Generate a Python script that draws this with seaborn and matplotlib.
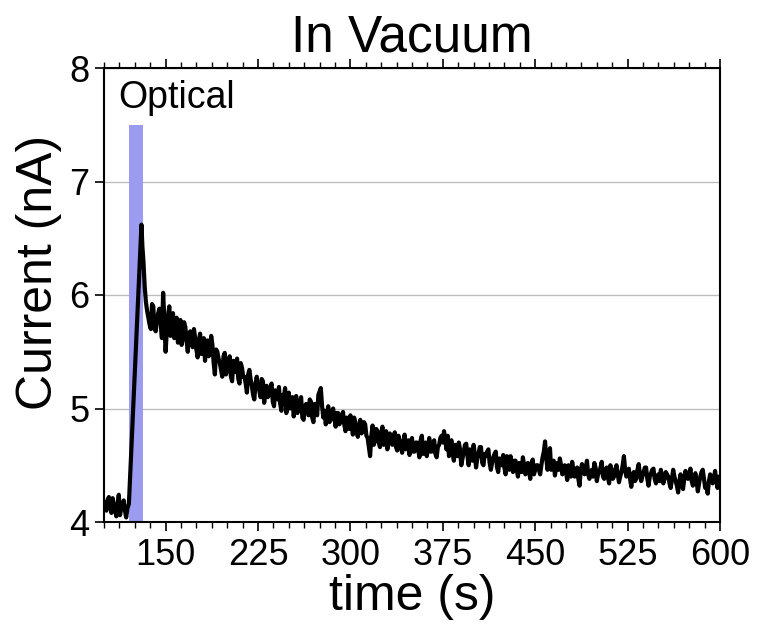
import numpy as np
import pandas as pd
import matplotlib
matplotlib.use("Agg")
import matplotlib.pyplot as plt
from matplotlib.ticker import MultipleLocator
import seaborn as sns

# ---------------- data ----------------
title = "In Vacuum"
x_label = "time (s)"
y_label = "Current (nA)"
pulse_label = "Optical"

x_ticks = [150, 225, 300, 375, 450, 525, 600]
y_ticks = [4, 5, 6, 7, 8]
x_limits = [100, 600]
y_limits = [4, 8]

# optical pulse window
pulse_start = 120.3
pulse_end = 131.4
pulse_top = 7.5

# baseline before illumination (1 s sampling: even and odd seconds)
base_t_even = list(range(100, 120, 2))
base_v_even = [4.18, 4.10, 4.22, 4.08, 4.15, 4.05, 4.24, 4.12, 4.19, 4.04]
base_t_odd = list(range(101, 119, 2))
base_v_odd = [4.12, 4.20, 4.14, 4.21, 4.10, 4.16, 4.06, 4.14, 4.10]

# rise and peak
pulse_t = [119.0, 120.2, 130.4, 131.2, 132.0, 133.0]
pulse_v = [4.12, 4.16, 6.62, 6.42, 6.30, 6.08]

# decay, even seconds 134 .. 600
decay_t_even = list(range(134, 601, 2))
decay_v_even = [
    5.94, 5.80, 5.70, 5.90, 5.68, 5.84, 5.74, 6.02, 5.50, 5.82,
    5.64, 5.84, 5.70, 5.58, 5.78, 5.62, 5.72, 5.50, 5.68, 5.54,
    5.62, 5.45, 5.66, 5.52, 5.42, 5.60, 5.48, 5.56, 5.30, 5.50,
    5.40, 5.28, 5.49, 5.34, 5.46, 5.24, 5.38, 5.44, 5.22, 5.36,
    5.28, 5.14, 5.34, 5.20, 5.08, 5.28, 5.16, 5.26, 5.05, 5.20,
    5.12, 5.22, 5.02, 5.14, 5.19, 4.98, 5.10, 4.96, 5.14, 5.02,
    4.93, 5.11, 5.00, 5.10, 4.90, 5.04, 4.94, 5.06, 4.88, 5.00,
    5.12, 5.18, 4.92, 4.86, 5.02, 4.90, 5.00, 4.84, 4.96, 4.88,
    4.97, 4.80, 4.90, 4.94, 4.77, 4.88, 4.75, 4.90, 4.80, 4.86,
    4.74, 4.58, 4.85, 4.72, 4.80, 4.66, 4.84, 4.70, 4.64, 4.78,
    4.68, 4.79, 4.63, 4.72, 4.61, 4.77, 4.66, 4.59, 4.74, 4.62,
    4.70, 4.57, 4.76, 4.64, 4.58, 4.74, 4.62, 4.72, 4.57, 4.68,
    4.76, 4.80, 4.64, 4.58, 4.72, 4.54, 4.66, 4.70, 4.50, 4.62,
    4.69, 4.50, 4.62, 4.68, 4.48, 4.60, 4.66, 4.50, 4.58, 4.64,
    4.46, 4.57, 4.62, 4.44, 4.54, 4.59, 4.42, 4.52, 4.58, 4.44,
    4.54, 4.40, 4.50, 4.57, 4.42, 4.52, 4.38, 4.55, 4.46, 4.50,
    4.42, 4.57, 4.71, 4.46, 4.65, 4.50, 4.41, 4.52, 4.56, 4.42,
    4.50, 4.37, 4.46, 4.53, 4.40, 4.48, 4.32, 4.51, 4.42, 4.54,
    4.38, 4.46, 4.52, 4.36, 4.44, 4.53, 4.38, 4.48, 4.34, 4.46,
    4.40, 4.50, 4.35, 4.44, 4.58, 4.40, 4.47, 4.31, 4.44, 4.38,
    4.51, 4.36, 4.44, 4.48, 4.32, 4.43, 4.47, 4.34, 4.42, 4.46,
    4.34, 4.44, 4.40, 4.30, 4.46, 4.36, 4.26, 4.42, 4.29, 4.45,
    4.38, 4.47, 4.32, 4.43, 4.27, 4.40, 4.46, 4.30, 4.25, 4.42,
    4.34, 4.45, 4.30, 4.40,
]

# decay, odd seconds 135 .. 599
decay_t_odd = list(range(135, 600, 2))
decay_v_odd = [
    5.86, 5.74, 5.92, 5.70, 5.80, 5.88, 5.62, 5.78, 5.68, 5.90,
    5.72, 5.62, 5.80, 5.66, 5.56, 5.76, 5.60, 5.66, 5.58, 5.70,
    5.52, 5.60, 5.48, 5.62, 5.58, 5.46, 5.64, 5.40, 5.52, 5.44,
    5.34, 5.46, 5.30, 5.40, 5.28, 5.42, 5.32, 5.26, 5.40, 5.28,
    5.22, 5.30, 5.26, 5.12, 5.22, 5.18, 5.10, 5.24, 5.14, 5.10,
    5.18, 5.06, 5.16, 5.08, 5.04, 5.12, 5.18, 5.04, 5.00, 5.10,
    5.04, 4.96, 5.06, 4.92, 5.02, 4.98, 5.08, 4.92, 5.04, 4.94,
    5.15, 5.02, 4.98, 4.94, 4.88, 4.98, 4.92, 4.96, 4.86, 4.94,
    4.86, 4.92, 4.82, 4.86, 4.92, 4.80, 4.84, 4.78, 4.88, 4.76,
    4.66, 4.76, 4.68, 4.82, 4.70, 4.78, 4.68, 4.80, 4.72, 4.70,
    4.74, 4.66, 4.76, 4.66, 4.70, 4.64, 4.72, 4.68, 4.62, 4.70,
    4.64, 4.72, 4.60, 4.70, 4.66, 4.62, 4.70, 4.60, 4.66, 4.74,
    4.70, 4.72, 4.76, 4.66, 4.60, 4.68, 4.58, 4.64, 4.56, 4.68,
    4.58, 4.64, 4.54, 4.60, 4.56, 4.66, 4.52, 4.60, 4.62, 4.52,
    4.52, 4.60, 4.48, 4.56, 4.50, 4.48, 4.58, 4.46, 4.52, 4.54,
    4.46, 4.52, 4.44, 4.50, 4.48, 4.44, 4.52, 4.42, 4.50, 4.46,
    4.50, 4.62, 4.56, 4.54, 4.46, 4.54, 4.48, 4.46, 4.50, 4.46,
    4.44, 4.50, 4.40, 4.46, 4.44, 4.38, 4.46, 4.44, 4.48, 4.42,
    4.44, 4.40, 4.48, 4.42, 4.48, 4.40, 4.44, 4.40, 4.50, 4.38,
    4.46, 4.42, 4.40, 4.50, 4.46, 4.44, 4.38, 4.40, 4.36, 4.46,
    4.42, 4.40, 4.48, 4.38, 4.40, 4.46, 4.38, 4.40, 4.36, 4.40,
    4.38, 4.42, 4.34, 4.38, 4.40, 4.32, 4.36, 4.34, 4.38, 4.40,
    4.42, 4.36, 4.38, 4.36, 4.34, 4.44, 4.38, 4.32, 4.36, 4.38,
    4.38, 4.36, 4.40,
]

df = pd.DataFrame({
    "time": base_t_even + base_t_odd + pulse_t + decay_t_even + decay_t_odd,
    "current": base_v_even + base_v_odd + pulse_v + decay_v_even + decay_v_odd,
}).sort_values("time")

# ---------------- styling ----------------
sns.set_theme(style="white")
plt.rcParams["font.family"] = ["Liberation Sans", "DejaVu Sans"]
plt.rcParams["text.color"] = "black"
plt.rcParams["axes.labelcolor"] = "black"
plt.rcParams["xtick.color"] = "black"
plt.rcParams["ytick.color"] = "black"

fig = plt.figure(figsize=(7.58, 6.22), dpi=100)
ax = fig.add_axes([104 / 758, 100 / 622, 616 / 758, 454 / 622])

# pulse rectangle
ax.fill_between([pulse_start, pulse_end], y_limits[0], pulse_top,
                color="#9b9bef", linewidth=0, zorder=1)

sns.lineplot(data=df, x="time", y="current", ax=ax, color="black",
             linewidth=3.0, estimator=None, sort=False, zorder=3)

ax.text(111.4, 7.65, pulse_label, fontsize=27, ha="left", va="baseline",
        color="black")

ax.set_xlim(*x_limits)
ax.set_ylim(*y_limits)
ax.set_xticks(x_ticks)
ax.set_yticks(y_ticks)
ax.xaxis.set_minor_locator(MultipleLocator(12.5))

ax.yaxis.grid(True, color="#bdbdbd", linewidth=1.0)
ax.xaxis.grid(False)
ax.set_axisbelow(True)

for s in ax.spines.values():
    s.set_visible(True)
    s.set_color("black")
    s.set_linewidth(1.5)

ax.tick_params(axis="x", which="major", direction="out", length=6.5, width=1.2,
               colors="black", top=True, bottom=True, labelsize=26, pad=5)
ax.tick_params(axis="x", which="minor", direction="out", length=4, width=1.0,
               colors="black", top=True, bottom=True)
ax.tick_params(axis="y", which="major", direction="out", length=6.5, width=1.2,
               colors="black", left=True, right=False, labelsize=26, pad=4)

ax.set_title(title, fontsize=37, pad=12, color="black")
ax.set_xlabel(x_label, fontsize=36, color="black")
ax.set_ylabel(y_label, fontsize=36, color="black")
ax.xaxis.set_label_coords(0.5, -0.115)
ax.yaxis.set_label_coords(-0.068, 0.55)

fig.savefig("out.png", dpi=100)
